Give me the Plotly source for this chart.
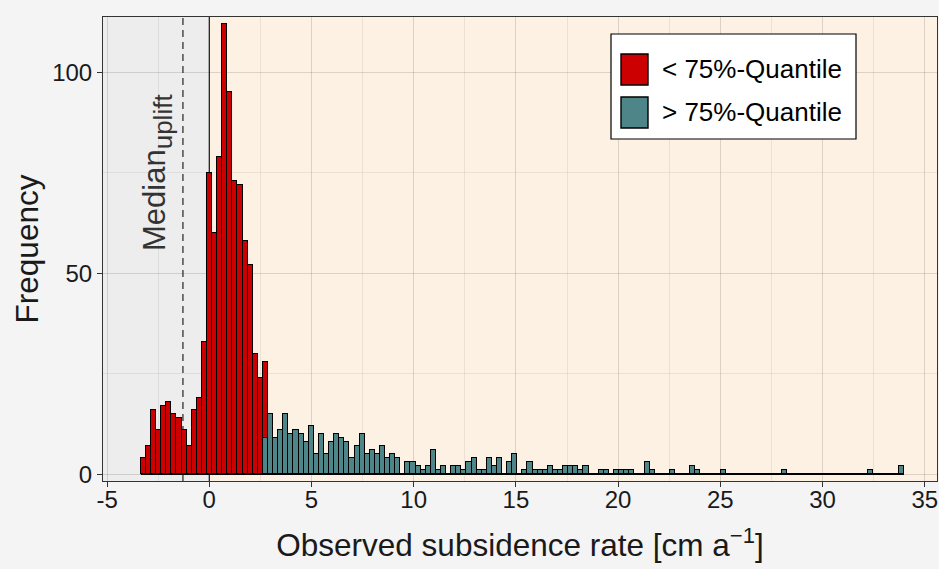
import numpy as np
import plotly.graph_objects as go

# ---------------- data ----------------
bin_start = -3.35      # left edge of first histogram bin [cm/a]
bin_width = 0.2489     # histogram bin width [cm/a]

# counts below the 75%-quantile, bins 1..25
below_q75 = [4, 7, 16, 11, 17, 18, 15, 14, 11, 7,
             16, 19, 33, 75, 60, 79, 112, 95, 73, 72,
             58, 52, 30, 24, 19]
below_first_bin = 1

# counts above the 75%-quantile, bins 25..150
above_q75 = [9, 15, 9, 11, 15, 10, 11, 10, 8, 12,
             5, 10, 5, 8, 10, 9, 8, 4, 7, 10,
             5, 6, 5, 7, 4, 5, 4, 0, 3, 3,
             2, 1, 2,
             6, 1, 2, 0, 2, 2, 1, 3, 4, 1,
             1, 4, 2, 4, 0, 3, 5, 0, 1, 3,
             1, 1, 1, 2, 1, 1, 2, 2, 2, 1,
             2, 0, 0, 1, 1, 0, 1, 1, 1, 1,
             0, 0, 3, 1,
             0, 0, 0, 1, 0, 0, 0, 2, 1, 0,
             0, 0, 0, 1, 0, 0, 0, 0, 0, 0,
             0, 0, 0, 0, 0, 1, 0, 0, 0, 0,
             0, 0, 0, 0, 0, 0, 0, 0, 0, 0,
             0, 0, 1, 0, 0, 0, 0, 0, 2]
above_first_bin = 25

median_uplift = -1.29
x_tick_vals = [-5, 0, 5, 10, 15, 20, 25, 30, 35]
x_tick_text = ["-5", "0", "5", "10", "15", "20", "25", "30", "35"]
y_tick_vals = [0, 50, 100]
y_tick_text = ["0", "50", "100"]
legend_labels = ["< 75%-Quantile", "> 75%-Quantile"]

# ---------------- styling ----------------
RED = "#CC0000"
TEAL = "#4E8588"
PAPER = "#F4F4F4"
GRAY_BG = "#EDEDED"
ORANGE_BG = "#FDF1E3"
GRID = "rgba(0,0,0,0.065)"
FONT = "Liberation Sans, Arial, sans-serif"

W, H = 939, 569
ML, MR, MT, MB = 103, 2, 17, 88
PW, PH = W - ML - MR, H - MT - MB
X_RANGE = [-5.2, 35.6]
Y_RANGE = [-1.67, 113.76]


def px_x(px):
    return (px - ML) / PW


def px_y(py):
    return 1 - (py - MT) / PH


def centers(first_bin, n):
    idx = np.arange(first_bin - 1, first_bin - 1 + n)
    return bin_start + (idx + 0.5) * bin_width


x_below = centers(below_first_bin, len(below_q75))
x_above = centers(above_first_bin, len(above_q75))
n_bins = above_first_bin - 1 + len(above_q75)
edge_lo = bin_start
edge_hi = bin_start + n_bins * bin_width

fig = go.Figure()
fig.add_trace(go.Bar(x=x_above, y=above_q75, width=bin_width,
                     marker=dict(color=TEAL, line=dict(color="black", width=1.4)),
                     name=legend_labels[1], showlegend=False))
fig.add_trace(go.Bar(x=x_below, y=below_q75, width=bin_width,
                     marker=dict(color=RED, line=dict(color="black", width=1.4)),
                     name=legend_labels[0], showlegend=False))
# zero-count bins outline (baseline)
fig.add_trace(go.Scatter(x=[edge_lo, edge_hi], y=[0, 0], mode="lines",
                         line=dict(color="black", width=1.6),
                         showlegend=False, hoverinfo="skip"))

shapes = [
    dict(type="rect", xref="x", yref="paper", x0=X_RANGE[0], x1=0, y0=0, y1=1,
         fillcolor=GRAY_BG, line=dict(width=0), layer="below"),
    dict(type="line", xref="x", yref="paper", x0=0, x1=0, y0=0, y1=1,
         line=dict(color="#1a1a1a", width=1.2), layer="between"),
    dict(type="line", xref="x", yref="paper", x0=median_uplift, x1=median_uplift,
         y0=0, y1=1, line=dict(color="#333333", width=1.3, dash="7px,5px"),
         layer="between"),
    # legend box
    dict(type="rect", xref="paper", yref="paper", x0=px_x(611), x1=px_x(856),
         y0=px_y(139), y1=px_y(34), fillcolor="white",
         line=dict(color="black", width=1.2), layer="above"),
    dict(type="rect", xref="paper", yref="paper", x0=px_x(621), x1=px_x(648),
         y0=px_y(85), y1=px_y(54), fillcolor=RED,
         line=dict(color="black", width=1.4), layer="above"),
    dict(type="rect", xref="paper", yref="paper", x0=px_x(621), x1=px_x(648),
         y0=px_y(128), y1=px_y(97), fillcolor=TEAL,
         line=dict(color="black", width=1.4), layer="above"),
]

annotations = [
    dict(xref="x", yref="y", x=-2.5, y=75, textangle=-90, showarrow=False,
         text='Median<sub><span style="font-size:26px">uplift</span></sub>',
         font=dict(family=FONT, size=31, color="#333333"),
         xanchor="center", yanchor="middle"),
    dict(xref="paper", yref="paper", x=px_x(660), y=px_y(69.5), showarrow=False,
         text=legend_labels[0], xanchor="left", yanchor="middle",
         font=dict(family=FONT, size=26, color="black")),
    dict(xref="paper", yref="paper", x=px_x(660), y=px_y(112.5), showarrow=False,
         text=legend_labels[1], xanchor="left", yanchor="middle",
         font=dict(family=FONT, size=26, color="black")),
]

fig.update_layout(
    width=W, height=H,
    margin=dict(l=ML, r=MR, t=MT, b=MB),
    paper_bgcolor=PAPER, plot_bgcolor=ORANGE_BG,
    barmode="stack", bargap=0,
    showlegend=False,
    shapes=shapes, annotations=annotations,
    font=dict(family=FONT, color="black"),
)
fig.update_xaxes(
    range=X_RANGE, tickmode="array", tickvals=x_tick_vals, ticktext=x_tick_text,
    ticks="outside", ticklen=5, tickwidth=1, tickcolor="#333333",
    tickfont=dict(size=24, color="#1a1a1a"), ticklabelstandoff=-8,
    showgrid=True, gridcolor=GRID, gridwidth=1.3,
    minor=dict(tickmode="linear", tick0=0, dtick=2.5, showgrid=True,
               gridcolor=GRID, gridwidth=0.7, ticks=""),
    showline=True, mirror=True, linecolor="#333333", linewidth=1,
    zeroline=False,
    title=dict(text="Observed subsidence rate [cm a<sup>\u22121</sup>]",
               font=dict(size=31.5, color="#1a1a1a"), standoff=22),
)
fig.update_yaxes(
    range=Y_RANGE, tickmode="array", tickvals=y_tick_vals, ticktext=y_tick_text,
    ticks="outside", ticklen=5, tickwidth=1, tickcolor="#333333",
    tickfont=dict(size=24, color="#1a1a1a"),
    showgrid=True, gridcolor=GRID, gridwidth=1.3,
    minor=dict(tickmode="linear", tick0=0, dtick=25, showgrid=True,
               gridcolor=GRID, gridwidth=0.7, ticks=""),
    showline=True, mirror=True, linecolor="#333333", linewidth=1,
    zeroline=False,
    title=dict(text="Frequency", font=dict(size=31.5, color="#1a1a1a"), standoff=4),
)

fig.write_html("out.html")
